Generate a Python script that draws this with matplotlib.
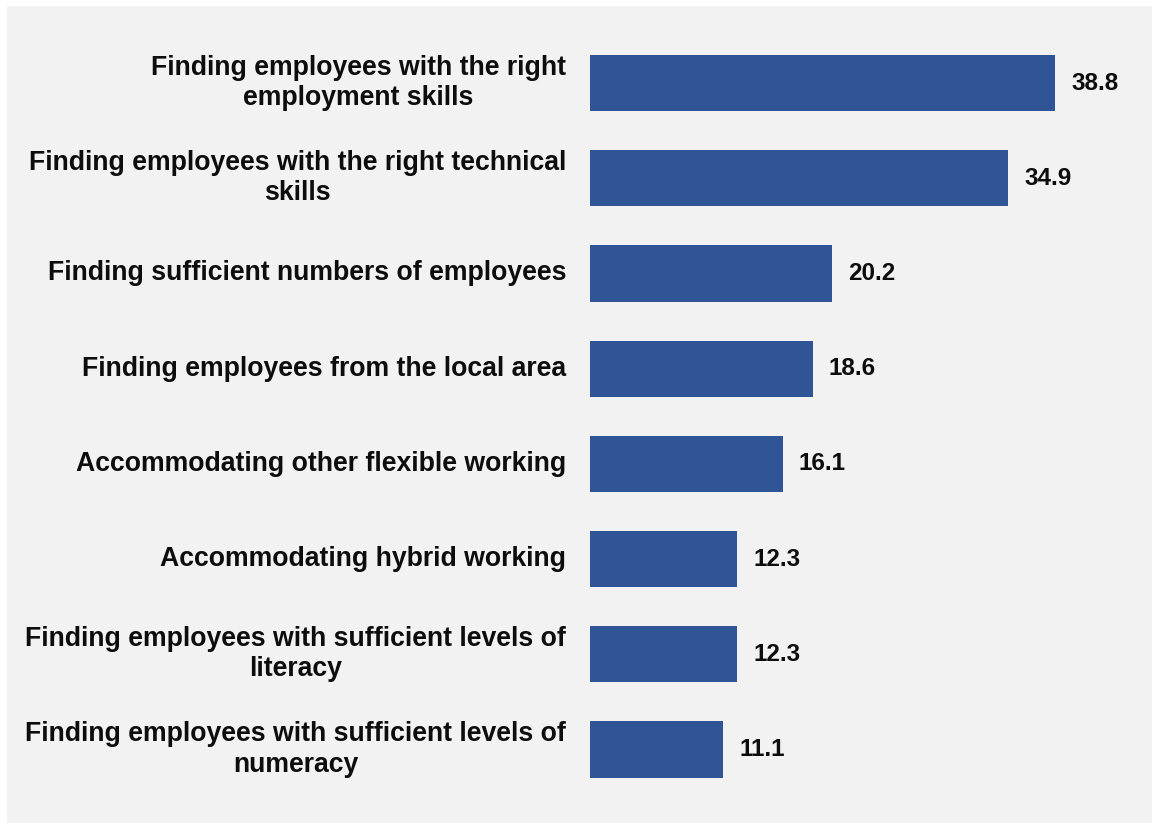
import matplotlib
matplotlib.use("Agg")
import matplotlib.pyplot as plt
from matplotlib.patches import Rectangle

categories = [
    "Finding employees with the right\nemployment skills",
    "Finding employees with the right technical\nskills",
    "Finding sufficient numbers of employees",
    "Finding employees from the local area",
    "Accommodating other flexible working",
    "Accommodating hybrid working",
    "Finding employees with sufficient levels of\nliteracy",
    "Finding employees with sufficient levels of\nnumeracy",
]
values = [38.8, 34.9, 20.2, 18.6, 16.1, 12.3, 12.3, 11.1]

W, H = 1152, 823
plt.rcParams["font.family"] = ["Liberation Sans", "DejaVu Sans"]
fig = plt.figure(figsize=(W / 100, H / 100), dpi=100, facecolor="white")

# light grey panel behind the chart
panel = Rectangle((7 / W, 0), 1 - 7 / W, 1 - 6 / H,
                  transform=fig.transFigure, facecolor="#f2f2f2",
                  edgecolor="none", zorder=-10)
fig.add_artist(panel)

ax_left, ax_right = 590 / W, 1140 / W
ax_top = 1 - 35.4 / H
ax_bottom = 1 - 797.1 / H
ax = fig.add_axes([ax_left, ax_bottom, ax_right - ax_left, ax_top - ax_bottom])
ax.set_facecolor("none")
ax.set_zorder(1)

ypos = list(range(len(categories)))
ax.barh(ypos, values, height=0.59, color="#2f5597", edgecolor="none")
xmax = 550 / ((1055 - 590) / 38.8)
ax.set_xlim(0, xmax)
ax.set_ylim(len(categories) - 0.5, -0.5)

for y, v in zip(ypos, values):
    ax.annotate(f"{v:.1f}", xy=(v, y), xytext=(16 * 72 / 100, 0), textcoords="offset points",
                ha="left", va="center", fontsize=17.5, fontweight="bold",
                color="#0d0d0d", annotation_clip=False)

ax.set_yticks(ypos)
ax.set_yticklabels([])
for y, lab in zip(ypos, categories):
    ax.annotate(lab, xy=(0, y), xycoords=("axes fraction", "data"),
                xytext=(-24 * 72 / 100, 0), textcoords="offset points",
                ha="right", va="center", multialignment="center",
                fontsize=19.2, fontweight="bold", color="#0d0d0d",
                linespacing=1.22, annotation_clip=False)

ax.tick_params(left=False, bottom=False, labelbottom=False)
for s in ax.spines.values():
    s.set_visible(False)

fig.savefig("out.png", dpi=100, facecolor="white")
